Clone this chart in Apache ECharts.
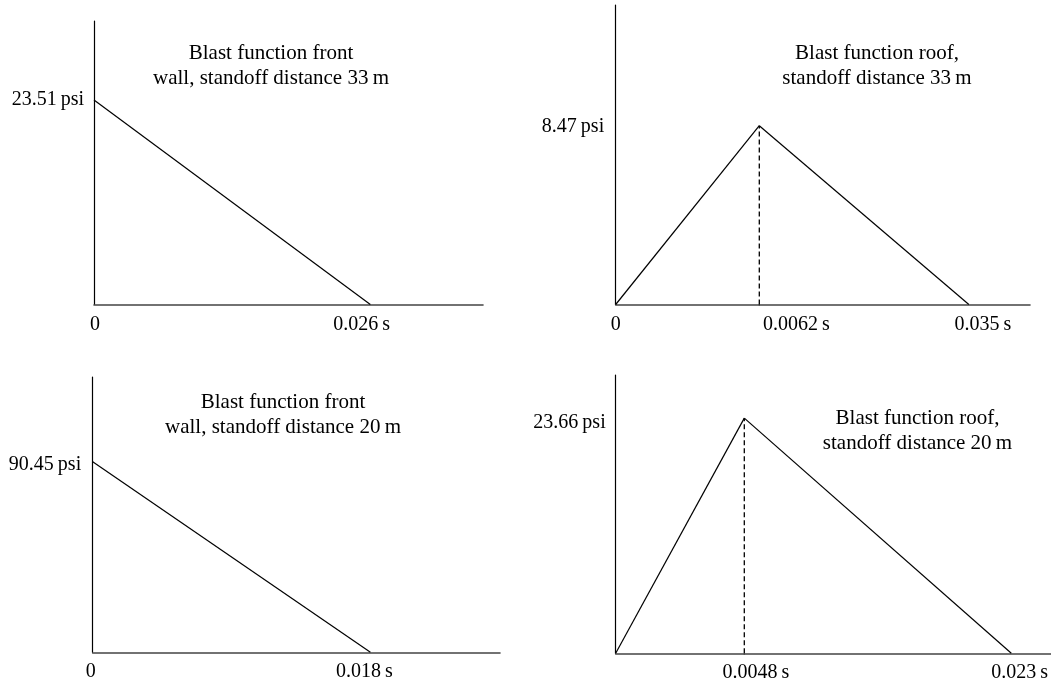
<!DOCTYPE html>
<html><head><meta charset="utf-8">
<script src="https://cdn.jsdelivr.net/npm/echarts@6/dist/echarts.min.js"></script>
<style>html,body{margin:0;padding:0;background:#fff}#c{width:1051px;height:684px}</style>
</head><body><div id="c"></div>
<script>
// ---- data ----
const wall33Time = [0, 0.026];
const wall33Pressure = [23.51, 0];
const roof33Time = [0, 0.0062, 0.035];
const roof33Pressure = [0, 8.47, 0];
const wall20Time = [0, 0.018];
const wall20Pressure = [90.45, 0];
const roof20Time = [0, 0.0048, 0.023];
const roof20Pressure = [0, 23.66, 0];

const wall33XTicks = [0, 0.026];
const roof33XTicksRise = [0];
const roof33XTicksFall = [0.0062, 0.035];
const wall20XTicks = [0, 0.018];
const roof20XTicksFall = [0.0048, 0.023];
const wall33YTicks = [23.51];
const roof33YTicks = [8.47];
const wall20YTicks = [90.45];
const roof20YTicks = [23.66];

const titleWall33 = 'Blast function front\nwall, standoff distance 33\u2009m';
const titleRoof33 = 'Blast function roof,\nstandoff distance 33\u2009m';
const titleWall20 = 'Blast function front\nwall, standoff distance 20\u2009m';
const titleRoof20 = 'Blast function roof,\nstandoff distance 20\u2009m';

// ---- styling helpers ----
const FONT = '"Liberation Serif", "DejaVu Serif", serif';
const FS = 20;
const TFS = 21;
const pts = (xs, ys) => xs.map((x, i) => [x, ys[i]]);

function findIdx(arr, v) { return arr.findIndex(a => Math.abs(a - v) < 1e-12); }

function xLabel(ticks, offsets, margin) {
  const rich = {};
  offsets.forEach((d, i) => {
    rich['t' + i] = { fontFamily: FONT, fontSize: FS, color: '#000',
      padding: d > 0 ? [0, 0, 0, 2 * d] : [0, -2 * d, 0, 0] };
  });
  return {
    customValues: ticks, margin, fontFamily: FONT, fontSize: FS, color: '#000',
    formatter: v => { const i = findIdx(ticks, v); const s = v === 0 ? '0' : v + '\u2009s'; return '{t' + i + '|' + s + '}'; },
    rich
  };
}
function yLabel(ticks, dy, margin) {
  return {
    customValues: ticks, margin, fontFamily: FONT, fontSize: FS, color: '#000',
    formatter: v => '{a|' + v + '\u2009psi}',
    rich: { a: { fontFamily: FONT, fontSize: FS, color: '#000',
      padding: dy > 0 ? [2 * dy, 0, 0, 0] : [0, 0, -2 * dy, 0] } }
  };
}
const xLine = { show: true, onZero: false, lineStyle: { color: '#444', width: 1.6 } };
const yLine = { show: true, onZero: false, lineStyle: { color: '#000', width: 1.2 } };

function xAxis(gridIndex, min, max, label) {
  return { type: 'value', gridIndex, min, max, axisLine: xLine, axisTick: { show: false },
    splitLine: { show: false }, axisLabel: label || { show: false } };
}
function yAxis(gridIndex, max, label) {
  return { type: 'value', gridIndex, min: 0, max, axisLine: label ? yLine : { show: false },
    axisTick: { show: false }, splitLine: { show: false }, axisLabel: label || { show: false } };
}
function solid(idx, data) {
  return { type: 'line', xAxisIndex: idx, yAxisIndex: idx, data, symbol: 'none', clip: false,
    lineStyle: { color: '#000', width: 1.2 }, silent: true };
}
function dashed(idx, t, p) {
  return { type: 'line', xAxisIndex: idx, yAxisIndex: idx, data: [[t, 0], [t, p]], symbol: 'none', clip: false,
    lineStyle: { color: '#000', width: 1.3, type: [5, 3] }, silent: true, z: 1 };
}
function title(x, y, text) {
  return { type: 'text', x, y, style: { text, font: TFS + 'px ' + FONT, fill: '#000',
    textAlign: 'center', textVerticalAlign: 'top', lineHeight: 25 } };
}

const option = {
  animation: false,
  backgroundColor: '#fff',
  grid: [
    { left: 94, top: 21, width: 389, height: 283.5 },
    { left: 615.7, top: 5, width: 143.6, height: 299.5 },
    { left: 759.3, top: 5, width: 270.7, height: 299.5 },
    { left: 92.7, top: 377, width: 407.3, height: 275.3 },
    { left: 615.7, top: 375, width: 128.6, height: 278.3 },
    { left: 744.3, top: 375, width: 306.7, height: 278.3 }
  ],
  xAxis: [
    xAxis(0, 0, 0.0366, xLabel(wall33XTicks, [1, -8.7], 10)),
    xAxis(1, 0, roof33Time[1], xLabel(roof33XTicksRise, [0], 10)),
    xAxis(2, roof33Time[1], 0.0434, xLabel(roof33XTicksFall, [37, 14], 10)),
    xAxis(3, 0, 0.0264, xLabel(wall20XTicks, [-2, -6], 9)),
    xAxis(4, 0, roof20Time[1]),
    xAxis(5, roof20Time[1], 0.0257, xLabel(roof20XTicksFall, [11.7, 8.3], 9))
  ],
  yAxis: [
    yAxis(0, 32.6, yLabel(wall33YTicks, 0, 10)),
    yAxis(1, 14.19, yLabel(roof33YTicks, 1.5, 11.5)),
    yAxis(2, 14.19),
    yAxis(3, 130.7, yLabel(wall20YTicks, 2.5, 11.5)),
    yAxis(4, 28.0, yLabel(roof20YTicks, 5, 10)),
    yAxis(5, 28.0)
  ],
  series: [
    solid(0, pts(wall33Time, wall33Pressure)),
    solid(1, pts(roof33Time.slice(0, 2), roof33Pressure.slice(0, 2))),
    solid(2, pts(roof33Time.slice(1), roof33Pressure.slice(1))),
    dashed(1, roof33Time[1], roof33Pressure[1]),
    solid(3, pts(wall20Time, wall20Pressure)),
    solid(4, pts(roof20Time.slice(0, 2), roof20Pressure.slice(0, 2))),
    solid(5, pts(roof20Time.slice(1), roof20Pressure.slice(1))),
    dashed(4, roof20Time[1], roof20Pressure[1])
  ],
  graphic: [
    title(271, 41, titleWall33),
    title(877, 41, titleRoof33),
    title(283, 389.5, titleWall20),
    title(917.5, 406, titleRoof20)
  ]
};
echarts.init(document.getElementById('c'), null, { renderer: 'canvas' }).setOption(option);
</script>
</body></html>
